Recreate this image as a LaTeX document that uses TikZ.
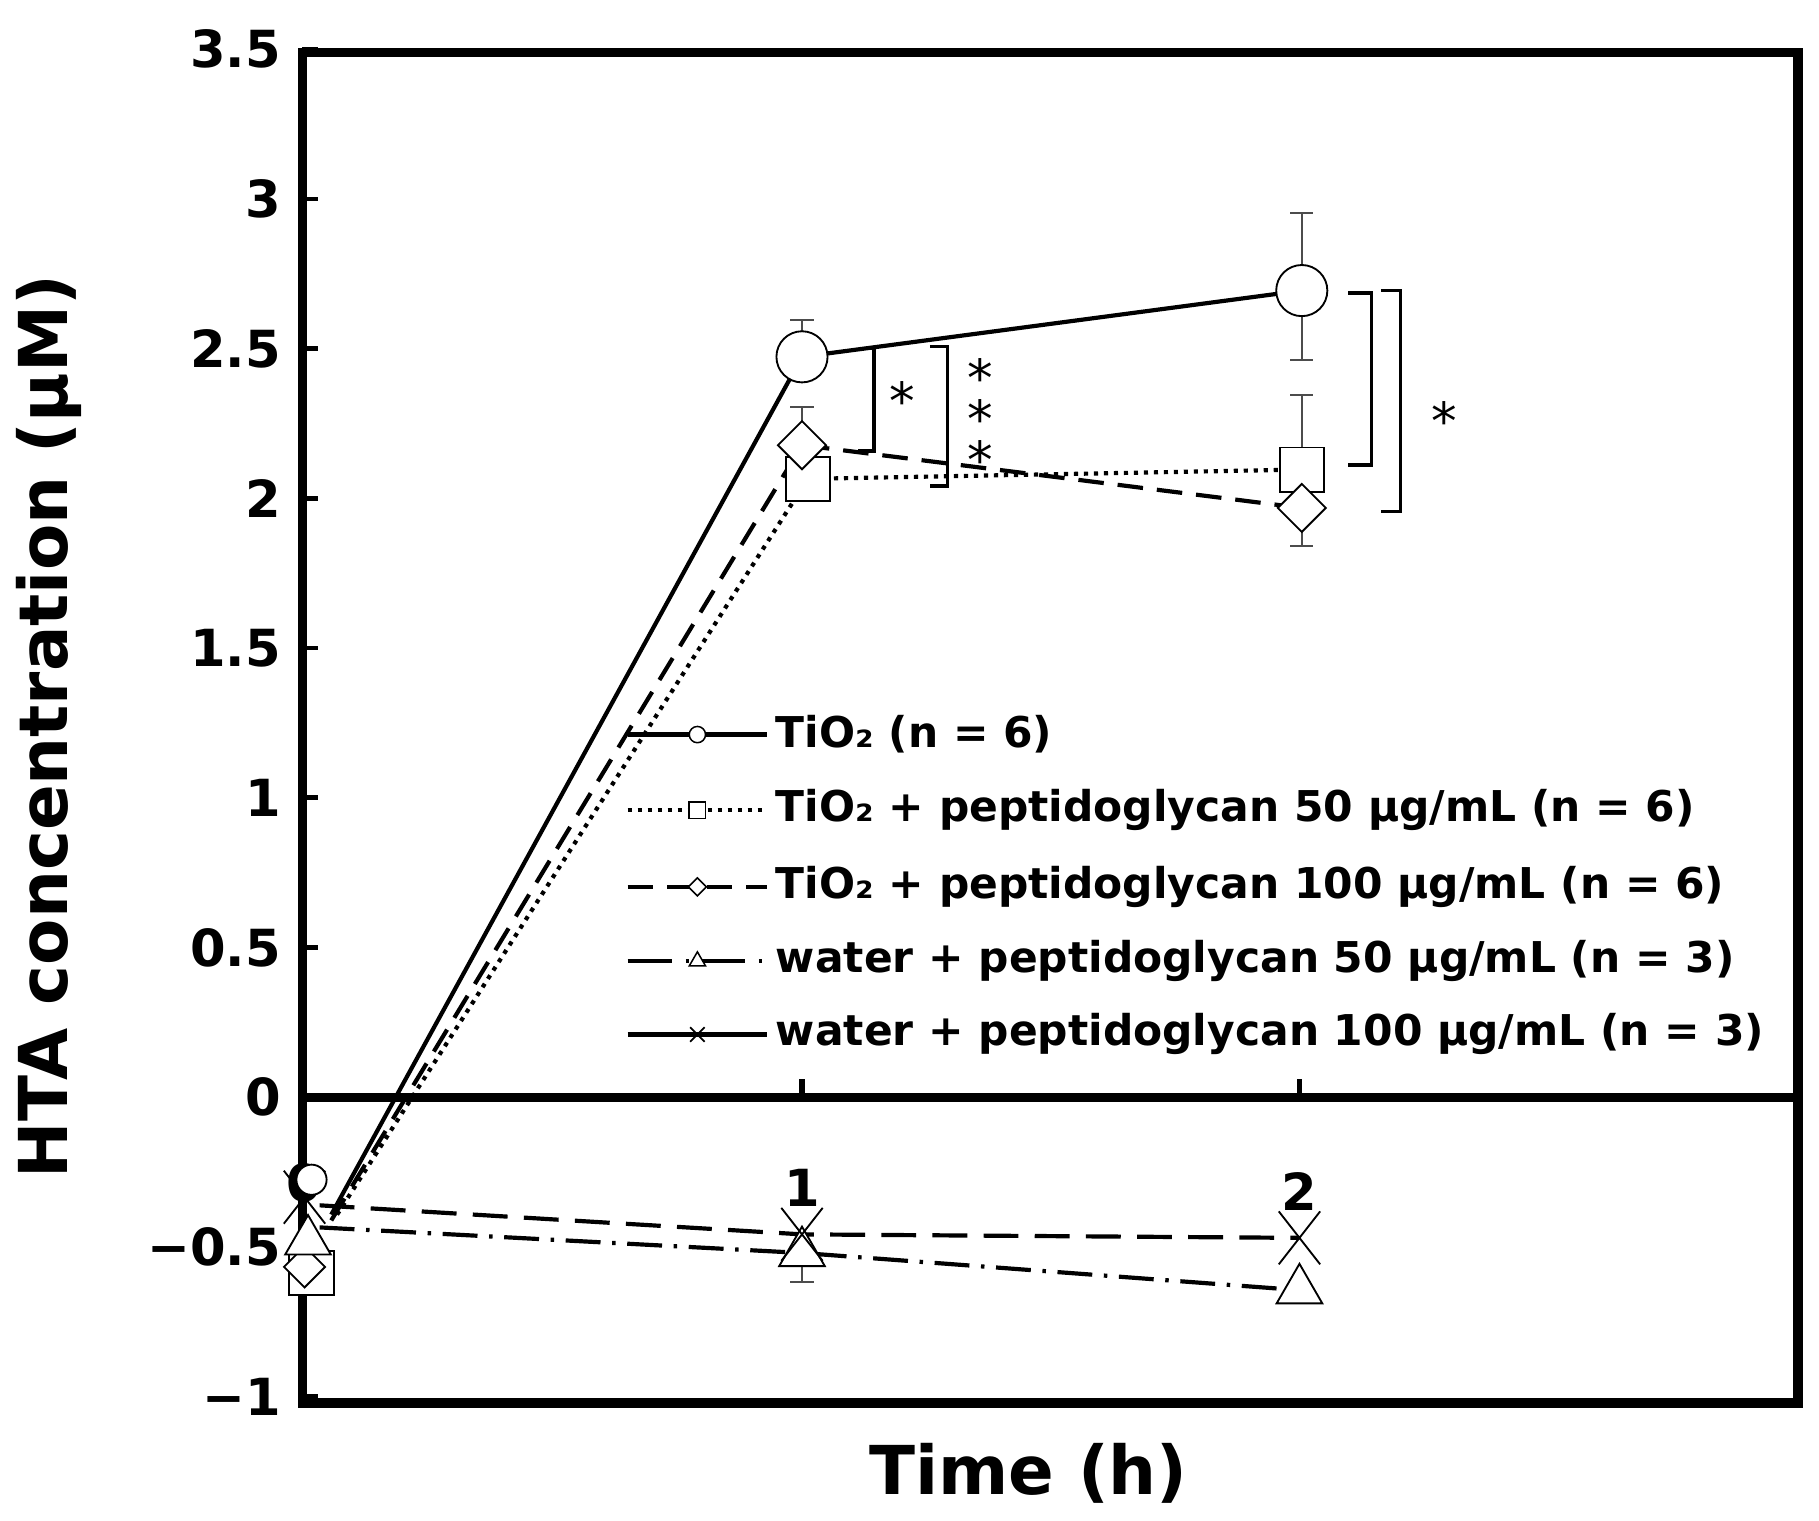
\documentclass[tikz,border=0pt]{standalone}
\usepackage{fontspec}
\setmainfont{DejaVu Sans}
\usetikzlibrary{shapes.geometric,shapes.misc}
\begin{document}
\begin{tikzpicture}[x=1pt,y=-1pt,
  frame/.style={line width=8pt},
  dl/.style={line width=3.6pt},
  mk/.style={draw,fill=white,line width=1.6pt,inner sep=0pt},
  mcirc/.style={mk,circle,minimum size=44pt},
  msq/.style={mk,rectangle,minimum size=38pt},
  mdia/.style={mk,diamond,minimum size=42pt},
  mtri/.style={mk,isosceles triangle,shape border rotate=90,isosceles triangle apex angle=60,minimum width=38pt,minimum height=34pt},
  mx/.style={mk,cross out,fill=none,minimum width=34pt,minimum height=44pt},
  smk/.style={draw,fill=white,line width=1.3pt,inner sep=0pt},
  tick/.style={font=\fontsize{44}{48}\selectfont\bfseries,anchor=east},
  lab/.style={font=\fontsize{36.5}{42}\selectfont\bfseries,anchor=west},
  star/.style={font=\fontsize{44}{48}\selectfont,inner sep=0pt},
  eb/.style={line width=1.5pt,gray!60!black},
  br/.style={line width=3pt}]
\useasboundingbox (0,0) rectangle (1565,1308);
% frame
\draw[frame] (260,45) rectangle (1547,1207);
\draw[frame] (260,944) -- (1547,944);
% y ticks
\foreach \v/\t in {3.5/3.5,3/3,2.5/2.5,2/2,1.5/1.5,1/1,0.5/0.5,0/0,-0.5/{−0.5},-1/{−1}}{
  \draw[line width=4pt] (260,{944-257.6*\v}) -- (274,{944-257.6*\v});
  \node[tick] at (245,{944-257.6*\v}) {\t};}
\draw[line width=5pt] (690,944) -- (690,928);
\draw[line width=5pt] (1118,944) -- (1118,928);
\node[font=\fontsize{44}{48}\selectfont\bfseries] (x0) at (262,1018) {0};
\node[font=\fontsize{44}{48}\selectfont\bfseries] (x1) at (690,1022) {1};
\node[font=\fontsize{44}{48}\selectfont\bfseries] (x2) at (1118,1025) {2};
\node[font=\fontsize{58}{64}\selectfont\bfseries,rotate=90] (ytitle) at (42,625) {HTA concentration (µM)};
\node[font=\fontsize{58}{64}\selectfont\bfseries] (xtitle) at (885,1268) {Time (h)};
% error bars
\draw[eb] (690,275) -- (690,307) (680,275) -- (700,275);
\draw[eb] (1120,183) -- (1120,310) (1110,183) -- (1130,183) (1110,310) -- (1130,310);
\draw[eb] (1120,340) -- (1120,404) (1110,340) -- (1130,340);
\draw[eb] (1120,437) -- (1120,470) (1110,470) -- (1130,470);
\draw[eb] (690,1075) -- (690,1103) (680,1103) -- (700,1103);
\draw[eb] (690,383) -- (690,350) (680,350) -- (700,350);
% data lines
\coordinate (c0) at (268,1015); \coordinate (c1) at (690,307); \coordinate (c2) at (1120,250);
\coordinate (s0) at (268,1095); \coordinate (s1) at (695,412); \coordinate (s2) at (1120,404);
\coordinate (d0) at (262,1090); \coordinate (d1) at (690,383); \coordinate (d2) at (1120,437);
\coordinate (t0) at (265,1068); \coordinate (t1) at (690,1078); \coordinate (t2) at (1118,1110);
\coordinate (k0) at (262,1030); \coordinate (k1) at (690,1062); \coordinate (k2) at (1118,1065);
\draw[dl] (285,1045) -- (c1) -- (c2);
\draw[dl,dash pattern=on 3.6pt off 5pt] (290,1045) -- (s1) -- (s2);
\draw[dl,dash pattern=on 22pt off 12pt] (285,1050) -- (d1) -- (d2);
\draw[dl,dash pattern=on 30pt off 14pt] (275,1037) -- (k1) -- (k2);
\draw[dl,dash pattern=on 30pt off 10pt on 3pt off 10pt] (275,1056) -- (t1) -- (t2);
% markers
\node[mcirc] (mc1) at (c1) {}; \node[mcirc] (mc2) at (c2) {};
\node[msq] (ms1) at (s1) {}; \node[msq] (ms2) at (s2) {};
\node[mdia] (md1) at (d1) {}; \node[mdia] (md2) at (d2) {};
\node[msq] (ms0) at (s0) {};
\node[mdia,minimum size=36pt] (md0) at (d0) {};
\node[mtri] (mt0) at (t0) {}; \node[mtri] (mt1) at (t1) {}; \node[mtri] (mt2) at (t2) {};
\node[mx] (mk0) at (k0) {}; \node[mx] (mk1) at (k1) {}; \node[mx] (mk2) at (k2) {};
\node[mk,circle,minimum size=26pt] (mc0) at (c0) {};
% significance brackets
\draw[br] (740,300) -- (752,300) -- (752,388) -- (738,388);
\node[star] (st1) at (776,345) {*};
\draw[br] (800,298) -- (815,298) -- (815,418) -- (800,418);
\node[star] (st2a) at (843,325) {*};
\node[star] (st2b) at (843,360) {*};
\node[star] (st2c) at (843,395) {*};
\draw[br] (1160,252) -- (1180,252) -- (1180,400) -- (1160,400);
\draw[br] (1188,250) -- (1205,250) -- (1205,440) -- (1188,440);
\node[star] (st3) at (1243,362) {*};
% legend
\draw[dl] (540,632) -- (660,632); \node[smk,circle,minimum size=14pt] (l1) at (600,632) {};
\node[lab] (t1l) at (664,632) {TiO₂ (n = 6)};
\draw[dl,dash pattern=on 3.6pt off 5pt] (540,697) -- (660,697); \node[smk,minimum size=14pt] (l2) at (600,697) {};
\node[lab] (t2l) at (664,697) {TiO₂ + peptidoglycan 50 µg/mL (n = 6)};
\draw[dl,dash pattern=on 22pt off 12pt] (540,763) -- (660,763); \node[smk,diamond,minimum size=16pt] (l3) at (600,763) {};
\node[lab] (t3l) at (664,763) {TiO₂ + peptidoglycan 100 µg/mL (n = 6)};
\draw[dl,dash pattern=on 38pt off 12pt on 3pt off 10pt] (540,827) -- (660,827); \node[smk,isosceles triangle,shape border rotate=90,isosceles triangle apex angle=60,minimum width=14pt,minimum height=12pt] (l4) at (600,827) {};
\node[lab] (t4l) at (664,827) {water + peptidoglycan 50 µg/mL (n = 3)};
\draw[dl] (540,890) -- (660,890); \node[draw,cross out,line width=1.5pt,minimum size=11pt] (l5) at (600,890) {};
\node[lab] (t5l) at (664,890) {water + peptidoglycan 100 µg/mL (n = 3)};
\end{tikzpicture}
\end{document}
